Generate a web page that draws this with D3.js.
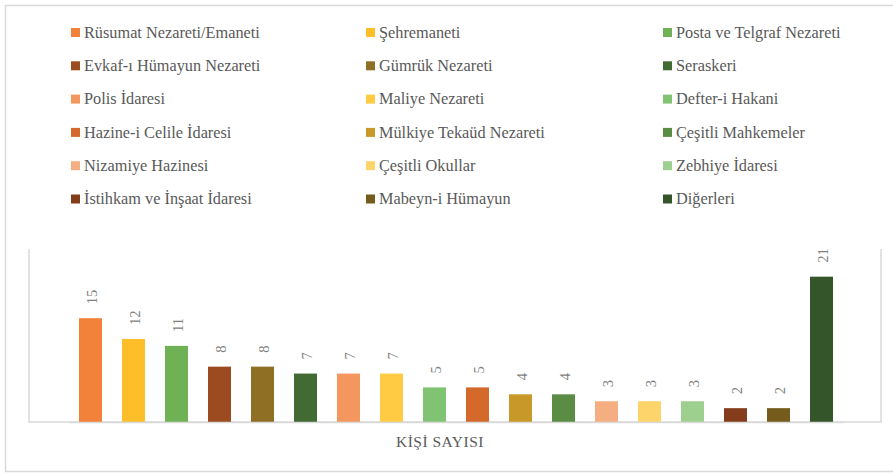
<!DOCTYPE html>
<html><head><meta charset="utf-8">
<script src="https://cdn.jsdelivr.net/npm/d3@7"></script>
<style>html,body{margin:0;padding:0;background:#fff;}</style>
</head><body>
<svg id="c" width="893" height="474"></svg>
<script>
const categories = ["Rüsumat Nezareti/Emaneti","Şehremaneti","Posta ve Telgraf Nezareti","Evkaf-ı Hümayun Nezareti","Gümrük Nezareti","Seraskeri","Polis İdaresi","Maliye Nezareti","Defter-i Hakani","Hazine-i Celile İdaresi","Mülkiye Tekaüd Nezareti","Çeşitli Mahkemeler","Nizamiye Hazinesi","Çeşitli Okullar","Zebhiye İdaresi","İstihkam ve İnşaat İdaresi","Mabeyn-i Hümayun","Diğerleri"];
const values = [15,12,11,8,8,7,7,7,5,5,4,4,3,3,3,2,2,21];
const colors = ["#F28239","#FDBE2A","#6EB255","#9C4B20","#8F6F24","#426A33","#F4975F","#FFCB43","#80C372","#D5682B","#C89828","#5A8C43","#F5AD82","#FDD46A","#9DD08E","#843C1A","#765C1C","#34552A"];
const axisTitle = "KİŞİ SAYISI";

const serif = "'Liberation Serif','Times New Roman',serif";
const svg = d3.select("#c");
// outer border
svg.append("rect").attr("x",5.5).attr("y",5.5).attr("width",890).attr("height",466)
  .attr("fill","none").attr("stroke","#d9d9d9").attr("stroke-width",1.5);

// legend
const lg = svg.append("g");
const colX = [71, 366, 663];
categories.forEach((c,i)=>{
  const col = i%3, row = Math.floor(i/3);
  const y = 32.5 + row*33.3;
  lg.append("rect").attr("x",colX[col]).attr("y",y-4.5).attr("width",9).attr("height",9).attr("fill",colors[i]);
  lg.append("text").attr("x",colX[col]+13).attr("y",y).attr("dy","0.33em")
    .attr("font-family",serif).attr("font-size",16.3).attr("fill","#595959").text(c);
});

// plot
const x = d3.scaleBand().domain(categories).range([69,843]).paddingInner(20/43).paddingOuter(10/43);
const y = d3.scaleLinear().domain([0,25]).range([422,249]);

// plot area frame (left, right, bottom)
svg.append("path").attr("d","M29,249V422H881V249").attr("fill","none").attr("stroke","#d9d9d9").attr("stroke-width",1.5);

svg.append("g").selectAll("rect").data(values).join("rect")
  .attr("x",(d,i)=>x(categories[i])).attr("width",x.bandwidth())
  .attr("y",d=>y(d)).attr("height",d=>y(0)-y(d)).attr("fill",(d,i)=>colors[i]);

svg.append("g").selectAll("text").data(values).join("text")
  .attr("transform",(d,i)=>`translate(${x(categories[i])+x.bandwidth()/2+1},${y(d)-14}) rotate(-90)`)
  .attr("dy","0.35em").attr("text-anchor","start")
  .attr("font-family",serif).attr("font-size",14.5).attr("fill","#7f7f7f")
  .text(d=>d);

// x axis line (drawn via axis, no ticks)
const ax = svg.append("g").attr("transform","translate(0,422)").call(d3.axisBottom(x).tickSize(0).tickFormat(""));
ax.select(".domain").attr("stroke","#d9d9d9").attr("stroke-width",1.5);

svg.append("text").attr("x",440).attr("y",447).attr("text-anchor","middle")
  .attr("font-family",serif).attr("font-size",15.5).attr("letter-spacing","0.5px").attr("fill","#595959").text(axisTitle);
</script>
</body></html>
